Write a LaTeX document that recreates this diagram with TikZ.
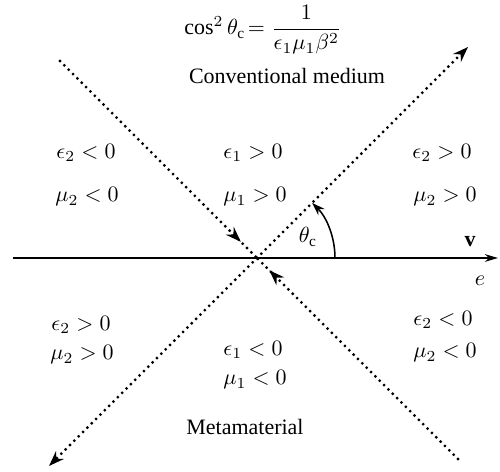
\documentclass[tikz,border=0pt]{standalone}
\usepackage{amsmath}
\usepackage{fontspec}
\setmainfont{Liberation Serif}
\usetikzlibrary{arrows.meta}
\usetikzlibrary{decorations.markings}

\begin{document}
\begin{tikzpicture}[x=0.16mm, y=0.16mm, >={Stealth[length=7pt,width=5pt]}, every node/.style={font=\normalsize}]
	\tikzset{ray/.style={line width=1.4pt, dash pattern=on 0pt off 2.8pt, line cap=round},
		midtip/.style={postaction={decorate, decoration={markings,
			mark=at position #1 with {\arrow{Stealth[length=7pt,width=5pt]}}}}},
		axis/.style={line width=0.7pt, -{Stealth[length=6pt,width=3.5pt]}},
		region/.style={inner sep=1pt}}
	\useasboundingbox (-257,-214) rectangle (243,258);
	% centre and ray ends
	\coordinate (o) at (0,0);
	\coordinate (ul) at (-197,197);
	\coordinate (ur) at (211,211);
	\coordinate (ll) at (-208,-208);
	\coordinate (lr) at (201,-201);
	\coordinate (axl) at (-244,0);
	\coordinate (axr) at (241,0);
	\coordinate (arcs) at (78,0);
	% axis and rays
	\draw[axis] (axl) -- (axr);
	\draw[ray, midtip=0.92] (ul) -- (o);
	\draw[ray, midtip=0.94] (lr) -- (o);
	\draw[ray, ->] (o) -- (ur);
	\draw[ray, ->] (o) -- (ll);
	\draw[line width=0.7pt, -{Stealth[length=6pt,width=4pt]}] (arcs) arc[start angle=0, end angle=45, radius=78];
	% labels
	\node (angle) at (51,21) {$\theta_{\mathrm{c}}$};
	\node (vel) at (213,16) {$\mathbf{v}$};
	\node (chg) at (223,-23) {$e$};
	\node (cher) at (6,228) {$\cos^2\theta_{\mathrm{c}}\!=\dfrac{1}{\epsilon_1\mu_1\beta^2}$};
	\node (conv) at (30,182) {Conventional medium};
	\node (meta) at (-12,-169) {Metamaterial};
	% regions
	\node[region] (epsul) at (-171,105) {$\epsilon_2<0$};
	\node[region] (muul) at (-170,61) {$\mu_2<0$};
	\node[region] (epsuc) at (-4,105) {$\epsilon_1>0$};
	\node[region] (muuc) at (-2,61) {$\mu_1>0$};
	\node[region] (epsur) at (185,105) {$\epsilon_2>0$};
	\node[region] (muur) at (188,61) {$\mu_2>0$};
	\node[region] (epsll) at (-176,-67) {$\epsilon_2>0$};
	\node[region] (mull) at (-175,-97) {$\mu_2>0$};
	\node[region] (epslc) at (-4,-92) {$\epsilon_1<0$};
	\node[region] (mulc) at (-2,-122) {$\mu_1<0$};
	\node[region] (epslr) at (186,-62) {$\epsilon_2<0$};
	\node[region] (mulr) at (188,-95) {$\mu_2<0$};
\end{tikzpicture}
\end{document}
